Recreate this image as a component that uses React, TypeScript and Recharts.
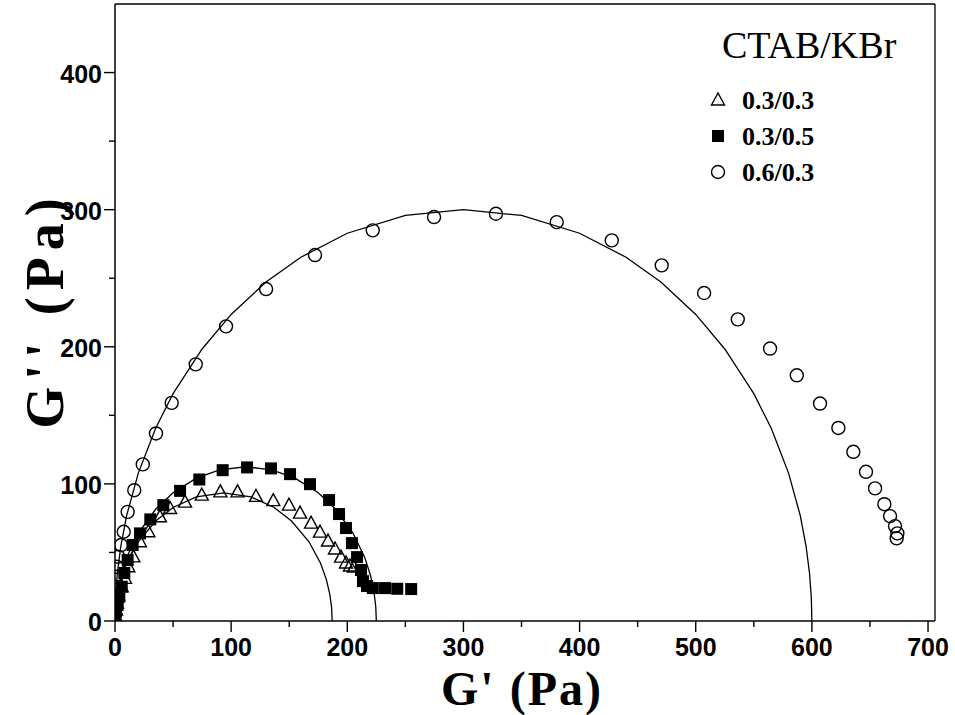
import React from 'react';
import { ComposedChart, Line, Scatter, XAxis, YAxis, ReferenceLine } from 'recharts';

// axis ticks (minor every 50, labels on the hundreds)
const xTicks = [0, 50, 100, 150, 200, 250, 300, 350, 400, 450, 500, 550, 600, 650, 700];
const yTicks = [0, 50, 100, 150, 200, 250, 300, 350, 400];

const xTitle = "G' (Pa)";
const yTitle = "G'' (Pa)";
const legendTitle = 'CTAB/KBr';
const seriesNames = ['0.3/0.3', '0.3/0.5', '0.6/0.3'];

// 0.3/0.3 (open triangles)
const triGp = [0, 0.9, 1.7, 2.8, 5.8, 8.6, 11.5, 15.8, 21.5, 28.7, 38.7, 47.4, 60.3, 74.7, 90.7, 105.5, 121.4, 136.3, 149.8, 159.3, 168.8, 176.5, 183.4, 189.4, 194.6, 198.9, 202.3, 205.8];
const triGpp = [4.4, 8, 13.1, 18.9, 25, 31.1, 39.6, 46.8, 57.8, 65.1, 76, 82.1, 86.7, 91.8, 94.2, 94.2, 90.9, 87.8, 84.5, 78.7, 71.4, 64.8, 58.3, 52.5, 46.6, 42.3, 40.1, 39.3];

// 0.3/0.5 (filled squares)
const sqGp = [0, 0.9, 2.3, 3.7, 5.8, 8, 10.9, 15.2, 21.5, 30.4, 41.6, 56, 72.6, 92.7, 113.7, 134.3, 150.7, 167.9, 184.3, 192.9, 198.9, 204, 208.4, 211.8, 213.5, 217, 222, 232.5, 243, 255];
const sqGpp = [3.1, 6.8, 11.7, 17.7, 25, 35, 44.4, 55.4, 63.9, 74.1, 84.5, 94.9, 103.2, 110, 112, 111.3, 107.1, 99.8, 88.2, 78, 67.8, 56.8, 46.6, 37.2, 29.1, 25.5, 24, 24, 23.5, 23.3];

// 0.6/0.3 (open circles)
const ciGp = [0, 0.2, 0.4, 0.6, 0.9, 1.5, 2.8, 5.2, 7.5, 10.9, 16.6, 23.9, 35.3, 48.8, 69.5, 95.6, 130.1, 172.2, 221.9, 274.7, 328, 380.3, 427.7, 470.7, 507.2, 536.2, 564, 587, 607, 622.8, 635.7, 646.6, 654.4, 662.4, 667.3, 671.6, 673.6, 673];
const ciGpp = [5.6, 12.9, 18.9, 25, 32.3, 39.6, 46.9, 55.4, 65.1, 79.6, 95.4, 114.2, 136.8, 159.1, 187.2, 214.9, 242.1, 266.9, 284.9, 294.6, 297, 290.9, 277.6, 259.4, 239.2, 220, 198.7, 179.2, 158.6, 140.8, 123.4, 108.8, 96.7, 85.2, 76.5, 69.2, 63.9, 60.3];

// Maxwell fit semicircles
const fitCiGp = [0, 0.5, 2, 5, 10, 20, 35, 50, 75, 100, 130, 160, 200, 250, 300, 350, 400, 440, 470, 500, 525, 550, 565, 580, 590, 595, 598, 599.5, 600];
const fitCiGpp = [0, 17.3, 34.6, 54.5, 76.8, 107.7, 140.6, 165.8, 198.4, 223.6, 247.2, 265.3, 282.8, 295.8, 300, 295.8, 282.8, 265.3, 247.2, 223.6, 198.4, 165.8, 140.6, 107.7, 76.8, 54.5, 34.6, 17.3, 0];
const fitSqGp = [0, 0.5, 2, 5, 10, 20, 35, 50, 70, 90, 112.5, 135, 155, 175, 190, 205, 215, 220, 223, 224.5, 225];
const fitSqGpp = [0, 10.6, 21.1, 33.2, 46.4, 64, 81.5, 93.5, 104.2, 110.2, 112.5, 110.2, 104.2, 93.5, 81.5, 64, 46.4, 33.2, 21.1, 10.6, 0];
const fitTriGp = [0, 0.5, 2, 5, 10, 20, 35, 50, 70, 93.5, 117, 137, 152, 167, 177, 182, 185, 186.5, 187];
const fitTriGpp = [0, 9.66, 19.2, 30.2, 42.1, 57.8, 72.9, 82.8, 90.5, 93.5, 90.5, 82.8, 72.9, 57.8, 42.1, 30.2, 19.2, 9.66, 0];

const pts = (xs: number[], ys: number[]) => xs.map((x, i) => ({ x, y: ys[i] }));

const triData = pts(triGp, triGpp);
const sqData = pts(sqGp, sqGpp);
const ciData = pts(ciGp, ciGpp);
const fitCi = pts(fitCiGp, fitCiGpp);
const fitSq = pts(fitSqGp, fitSqGpp);
const fitTri = pts(fitTriGp, fitTriGpp);

const tickFont = '"Liberation Sans", Arial, sans-serif';
const serif = '"Liberation Serif", "Times New Roman", serif';

const TriangleDot = ({ cx, cy }: any) => (
    <polygon
        points={`${cx},${cy - 7} ${cx - 6.5},${cy + 5} ${cx + 6.5},${cy + 5}`}
        fill="none"
        stroke="#000"
        strokeWidth={1.4}
    />
);
const SquareDot = ({ cx, cy }: any) => <rect x={cx - 6} y={cy - 6} width={12} height={12} fill="#000" />;
const CircleDot = ({ cx, cy }: any) => <circle cx={cx} cy={cy} r={6.5} fill="none" stroke="#000" strokeWidth={1.4} />;

const XTick = ({ x, y, payload }: any) => {
    const major = payload.value % 100 === 0;
    return (
        <g>
            <line x1={x} x2={x} y1={y} y2={y + (major ? 11 : 6)} stroke="#000" strokeWidth={1.4} />
            {major && (
                <text x={x} y={y + 35} textAnchor="middle" fontFamily={tickFont} fontWeight="bold" fontSize={25} fill="#000">
                    {payload.value}
                </text>
            )}
        </g>
    );
};

const YTick = ({ x, y, payload }: any) => {
    const major = payload.value % 100 === 0;
    return (
        <g>
            <line x1={x - (major ? 11 : 6)} x2={x} y1={y} y2={y} stroke="#000" strokeWidth={1.4} />
            {major && (
                <text x={x - 13} y={y + 1} textAnchor="end" dominantBaseline="central" fontFamily={tickFont} fontWeight="bold" fontSize={25} fill="#000">
                    {payload.value}
                </text>
            )}
        </g>
    );
};

// titles and legend drawn over the chart
const Overlay = () => (
    <svg width={955} height={715} style={{ position: 'absolute', left: 0, top: 0, pointerEvents: 'none' }}>
        <text x={522} y={705} textAnchor="middle" fontFamily={serif} fontWeight="bold" fontSize={48} letterSpacing={2} fill="#000">
            {xTitle}
        </text>
        <text transform="translate(63,310) rotate(-90)" textAnchor="middle" fontFamily={serif} fontWeight="bold" fontSize={54} letterSpacing={7} fill="#000">
            {yTitle}
        </text>
        <g transform="translate(700,18)">
            <text x={22} y={40} fontFamily={serif} fontSize={38} fill="#000">{legendTitle}</text>
            <TriangleDot cx={18} cy={82} />
            <SquareDot cx={18} cy={118} />
            <CircleDot cx={18} cy={154} />
            {seriesNames.map((n, i) => (
                <text key={n} x={42} y={82 + i * 36} dominantBaseline="central" fontFamily={serif} fontWeight="bold" fontSize={26} fill="#000">
                    {n}
                </text>
            ))}
        </g>
    </svg>
);

export default function App() {
    return (
        <div style={{ position: 'absolute', left: 0, top: 0, width: 955, height: 715, background: '#fff' }}>
            <ComposedChart width={955} height={715} margin={{ top: 4, right: 20, bottom: 54, left: 55 }}>
                <XAxis
                    type="number"
                    dataKey="x"
                    domain={[0, 706]}
                    allowDataOverflow
                    ticks={xTicks}
                    tickSize={0}
                    tickMargin={0}
                    tickLine={false}
                    height={40}
                    tick={<XTick />}
                    stroke="#000"
                    strokeWidth={1.5}
                />
                <YAxis
                    type="number"
                    dataKey="y"
                    domain={[0, 450]}
                    allowDataOverflow
                    ticks={yTicks}
                    tickSize={0}
                    tickMargin={0}
                    tickLine={false}
                    width={60}
                    tick={<YTick />}
                    stroke="#000"
                    strokeWidth={1.5}
                />
                <ReferenceLine y={450} stroke="#000" strokeWidth={1.3} />
                <ReferenceLine x={706} stroke="#000" strokeWidth={1.3} />
                <Line data={fitCi} dataKey="y" type="linear" stroke="#000" strokeWidth={1.3} dot={false} isAnimationActive={false} legendType="none" />
                <Line data={fitSq} dataKey="y" type="linear" stroke="#000" strokeWidth={1.3} dot={false} isAnimationActive={false} legendType="none" />
                <Line data={fitTri} dataKey="y" type="linear" stroke="#000" strokeWidth={1.3} dot={false} isAnimationActive={false} legendType="none" />
                <Scatter name={seriesNames[0]} data={triData} shape={<TriangleDot />} isAnimationActive={false} />
                <Scatter name={seriesNames[1]} data={sqData} shape={<SquareDot />} isAnimationActive={false} />
                <Scatter name={seriesNames[2]} data={ciData} shape={<CircleDot />} isAnimationActive={false} />
            </ComposedChart>
            <Overlay />
        </div>
    );
}
